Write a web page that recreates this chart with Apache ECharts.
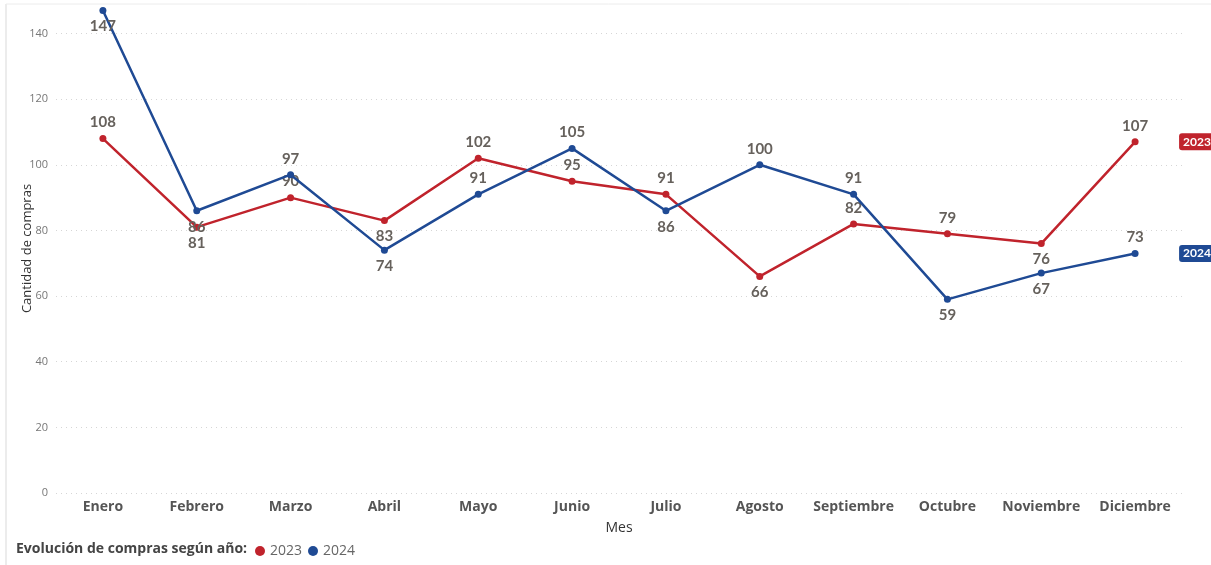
<!DOCTYPE html>
<html><head><meta charset="utf-8">
<script src="https://cdn.jsdelivr.net/npm/echarts@6/dist/echarts.min.js"></script>
<style>html,body{margin:0;padding:0;background:#fff}#c{width:1211px;height:565px}</style>
</head><body><div id="c"></div>
<script>
const months = ['Enero','Febrero','Marzo','Abril','Mayo','Junio','Julio','Agosto','Septiembre','Octubre','Noviembre','Diciembre'];
const values2023 = [108, 81, 90, 83, 102, 95, 91, 66, 82, 79, 76, 107];
const values2024 = [147, 86, 97, 74, 91, 105, 86, 100, 91, 59, 67, 73];
const yTicks = [0, 20, 40, 60, 80, 100, 120, 140];

const pos2023 = ['top','bottom','top','bottom','top','top','top','bottom','top','top','bottom','top'];
const pos2024 = ['bottom','bottom','top','bottom','top','top','bottom','top','top','bottom','bottom','top'];

const RED = '#C0232C', BLUE = '#1F4A94';
const labelStyle = {fontFamily:'Lato', fontWeight:'bold', fontSize:15, color:'#66615c', distance:5};

function mk(vals, pos) {
  return vals.map((v,i) => ({value:v, label:{position:pos[i]}}));
}
function endLbl(color){
  return {show:true, formatter:'{a}', distance:44, color:'#fff', backgroundColor:color,
    fontFamily:'Lato', fontWeight:'bold', fontSize:12, padding:[3,4,2,4], borderRadius:3};
}

const chart = echarts.init(document.getElementById('c'));
chart.setOption({
  animation:false,
  textStyle:{fontFamily:'Noto Sans'},
  graphic:[
    {type:'line', shape:{x1:6,y1:4,x2:6,y2:565}, style:{stroke:'#ececec', lineWidth:2}},
    {type:'line', shape:{x1:6,y1:4,x2:1211,y2:4}, style:{stroke:'#ececec', lineWidth:1}},
    {type:'text', left:16, top:542, style:{text:'Evolución de compras según año:', font:'bold 14px "Open Sans"', fill:'#444'}}
  ],
  legend:{left:250, top:539, itemWidth:10, itemHeight:10, itemGap:6, icon:'circle',
    textStyle:{fontFamily:'Open Sans', fontSize:14, color:'#666'}, data:['2023','2024']},
  grid:{left:56, right:29, top:4, bottom:72, containLabel:false, outerBoundsMode:'none'},
  xAxis:{type:'category', data:months, boundaryGap:true,
    name:'Mes', nameLocation:'middle', nameGap:28, nameMoveOverlap:false,
    nameTextStyle:{fontFamily:'Open Sans', fontSize:14, color:'#333'},
    axisLine:{show:false}, axisTick:{show:false},
    axisLabel:{fontFamily:'Open Sans', fontWeight:'bold', fontSize:14, color:'#555', margin:7, interval:0}},
  yAxis:{type:'value', min:0, max:149, interval:20,
    name:'Cantidad de compras', nameLocation:'middle', nameGap:22, nameMoveOverlap:false,
    nameTextStyle:{fontFamily:'Open Sans', fontSize:13, color:'#333'},
    axisLine:{show:false}, axisTick:{show:false},
    axisLabel:{fontFamily:'Open Sans', fontSize:11, color:'#777', margin:8, showMaxLabel:false,
      formatter:v => yTicks.includes(v) ? String(v) : ''},
    splitLine:{show:true, showMaxLine:false, lineStyle:{color:'#d6d6d6', type:[1,4], width:1}}},
  series:[
    {name:'2023', type:'line', data:mk(values2023,pos2023), color:RED, symbol:'circle', symbolSize:7,
      lineStyle:{width:2.5, color:RED}, itemStyle:{color:RED},
      label:Object.assign({show:true}, labelStyle), endLabel:endLbl(RED), z:2},
    {name:'2024', type:'line', data:mk(values2024,pos2024), color:BLUE, symbol:'circle', symbolSize:7,
      lineStyle:{width:2.5, color:BLUE}, itemStyle:{color:BLUE},
      label:Object.assign({show:true}, labelStyle), endLabel:endLbl(BLUE), z:3}
  ]
});
</script></body></html>
